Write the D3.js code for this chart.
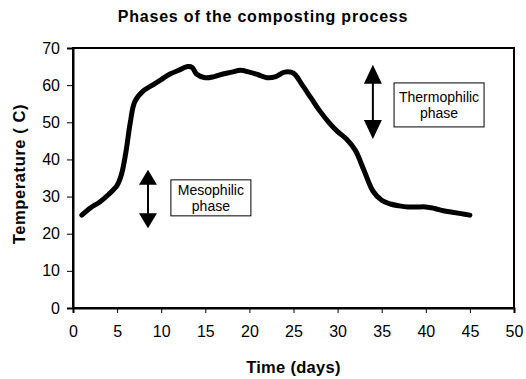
<!DOCTYPE html>
<html>
<head>
<meta charset="utf-8">
<script src="https://cdn.jsdelivr.net/npm/d3@7"></script>
<style>
  html, body { margin: 0; padding: 0; background: #fff; }
  svg { display: block; font-family: "Liberation Sans", Arial, sans-serif; }
</style>
</head>
<body>
<svg id="chart" width="526" height="379"></svg>
<script>
// Temperature of the compost pile over time
const days = [1, 2, 3, 4, 5, 5.5, 6, 6.5, 7, 8, 9, 10, 11, 12, 13, 13.5, 14, 15, 16, 17, 18, 19, 20, 21, 22, 23, 24, 25, 26, 27, 28, 29, 30, 31, 32, 33, 34, 35, 36, 37, 38, 39, 40, 41, 42, 43, 44, 45];
const temperature = [25, 27, 28.5, 30.5, 33, 36, 42, 50, 55.5, 58.5, 60, 61.5, 63, 64, 65, 64.8, 63, 62, 62.3, 63, 63.5, 64, 63.5, 62.8, 62, 62.3, 63.5, 63.2, 60, 56.5, 53, 50, 47.5, 45.5, 42.5, 37, 31.5, 29, 28, 27.5, 27.2, 27.2, 27.2, 26.8, 26.2, 25.8, 25.4, 25];

const xTicks = [0, 5, 10, 15, 20, 25, 30, 35, 40, 45, 50];
const yTicks = [0, 10, 20, 30, 40, 50, 60, 70];

// Phase annotations
const phaseNames = [["Mesophilic", "phase"], ["Thermophilic", "phase"]];
const phaseArrowDay = [8.5, 34];
const phaseArrowSpan = [[37.2, 21.5], [65.5, 45.5]];

// Label box placement (top-left corner in data units) and box size in px
const boxLayout = [
  { day: 11.1, temp: 34.5, w: 80, h: 36, head: 15 },
  { day: 36.4, temp: 60.6, w: 90, h: 44, head: 19 }
];

const svg = d3.select("#chart");
const margin = { top: 48, right: 12, bottom: 71, left: 73 };
const W = 526, H = 379;
const iw = W - margin.left - margin.right;
const ih = H - margin.top - margin.bottom;

const x = d3.scaleLinear().domain([0, 50]).range([margin.left, margin.left + iw]);
const y = d3.scaleLinear().domain([0, 70]).range([margin.top + ih, margin.top]);

// Plot frame
svg.append("rect")
  .attr("x", margin.left).attr("y", margin.top)
  .attr("width", iw).attr("height", ih)
  .attr("fill", "none").attr("stroke", "#000").attr("stroke-width", 2);

// Axes
const xAxis = svg.append("g")
  .attr("transform", `translate(0,${margin.top + ih})`)
  .call(d3.axisBottom(x).tickValues(xTicks).tickSize(5).tickPadding(13));
const yAxis = svg.append("g")
  .attr("transform", `translate(${margin.left},0)`)
  .call(d3.axisLeft(y).tickValues(yTicks).tickSize(6).tickPadding(7));
[xAxis, yAxis].forEach(g => {
  g.select(".domain").attr("stroke-width", 2);
  g.selectAll(".tick line").attr("stroke-width", 1);
  g.selectAll(".tick text").attr("font-size", 16).attr("fill", "#000")
    .attr("font-family", "'Liberation Sans', Arial, sans-serif");
});

// Temperature curve
const line = d3.line()
  .x((d, i) => x(days[i]))
  .y(d => y(d))
  .curve(d3.curveCatmullRom.alpha(0.5));
svg.append("path")
  .datum(temperature)
  .attr("d", line)
  .attr("fill", "none")
  .attr("stroke", "#000")
  .attr("stroke-width", 5)
  .attr("stroke-linecap", "round")
  .attr("stroke-linejoin", "round");

// Double-headed arrows and phase labels
phaseNames.forEach((lines, i) => {
  const L = boxLayout[i];
  const ax = x(phaseArrowDay[i]);
  const y1 = y(phaseArrowSpan[i][0]);
  const y2 = y(phaseArrowSpan[i][1]);
  const hw = 9, hh = L.head;
  svg.append("line")
    .attr("x1", ax).attr("x2", ax)
    .attr("y1", y1 + hh - 2).attr("y2", y2 - hh + 2)
    .attr("stroke", "#000").attr("stroke-width", 2);
  svg.append("path")
    .attr("d", `M${ax},${y1} L${ax + hw},${y1 + hh} L${ax - hw},${y1 + hh} Z`)
    .attr("fill", "#000");
  svg.append("path")
    .attr("d", `M${ax},${y2} L${ax + hw},${y2 - hh} L${ax - hw},${y2 - hh} Z`)
    .attr("fill", "#000");

  const bx = x(L.day);
  const by = y(L.temp);
  svg.append("rect")
    .attr("x", bx).attr("y", by)
    .attr("width", L.w).attr("height", L.h)
    .attr("fill", "#fff").attr("stroke", "#000").attr("stroke-width", 1);
  const t = svg.append("text")
    .attr("text-anchor", "middle")
    .attr("font-size", 14)
    .attr("fill", "#000");
  const gap = 16.5;
  const firstBase = by + L.h / 2 - gap / 2 + 5;
  lines.forEach((s, k) => {
    t.append("tspan").attr("x", bx + L.w / 2).attr("y", firstBase + k * gap).text(s);
  });
});

// Titles
svg.append("text")
  .attr("x", W / 2).attr("y", 22)
  .attr("text-anchor", "middle")
  .attr("font-size", 16).attr("font-weight", "bold")
  .attr("letter-spacing", 0.8)
  .text("Phases of the composting process");

svg.append("text")
  .attr("x", margin.left + iw / 2).attr("y", 373)
  .attr("text-anchor", "middle")
  .attr("font-size", 16.5).attr("font-weight", "bold")
  .attr("letter-spacing", 0.3)
  .text("Time (days)");

svg.append("text")
  .attr("transform", `translate(25,${margin.top + ih / 2 - 4}) rotate(-90)`)
  .attr("text-anchor", "middle")
  .attr("font-size", 16.5).attr("font-weight", "bold")
  .attr("letter-spacing", 0.6)
  .text("Temperature ( C)");
</script>
</body>
</html>
